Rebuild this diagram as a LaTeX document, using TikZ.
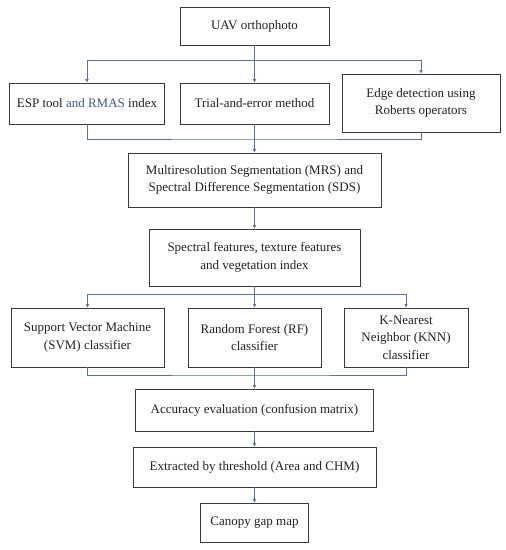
\documentclass[tikz,border=0pt]{standalone}
\usepackage{fontspec}
\setmainfont{Liberation Serif}
\usetikzlibrary{arrows.meta}
\definecolor{conn}{HTML}{5B7291}
\definecolor{boxline}{HTML}{3A3A3A}
\definecolor{txt}{HTML}{222222}
\definecolor{blu}{HTML}{3D5A85}
\tikzset{
  box/.style={draw=boxline, line width=0.8pt, fill=white, align=center, text=txt,
    inner sep=2pt, font=\fontsize{13}{17.5}\selectfont},
  conline/.style={draw=conn, line width=0.7pt},
  arr/.style={conline, -{Latex[length=3.5pt,width=3.5pt]}}
}
\begin{document}
\begin{tikzpicture}[x=1pt,y=-1pt]
\useasboundingbox (0,0) rectangle (506,550);
\fill[white] (0,0) rectangle (506,550);

\node[box, minimum width=149pt, minimum height=38pt] (uav) at (254.5,26) {UAV orthophoto};
\node[box, minimum width=155pt, minimum height=41pt] (esp) at (87,103.5) {ESP tool \textcolor{blu}{and RMAS} index};
\node[box, minimum width=149pt, minimum height=41pt] (trial) at (254.5,103.5) {Trial-and-error method};
\node[box, minimum width=158pt, minimum height=58pt] (edge) at (421,103) {Edge detection using\\Roberts operators};
\node[box, minimum width=253pt, minimum height=54pt] (mrs) at (254.5,180) {Multiresolution Segmentation (MRS) and\\Spectral Difference Segmentation (SDS)};
\node[box, minimum width=211pt, minimum height=57pt] (spec) at (254.5,257.5) {Spectral features, texture features\\and vegetation index};
\node[box, minimum width=153pt, minimum height=59pt] (svm) at (87.5,337.5) {Support Vector Machine\\(SVM) classifier};
\node[box, minimum width=133pt, minimum height=59pt] (rf) at (254.5,337.5) {Random Forest (RF)\\classifier};
\node[box, minimum width=124pt, minimum height=59pt] (knn) at (406,337.5) {K-Nearest\\Neighbor (KNN)\\classifier};
\node[box, minimum width=238pt, minimum height=42pt] (acc) at (254.5,410) {Accuracy evaluation (confusion matrix)};
\node[box, minimum width=243pt, minimum height=40pt] (ext) at (254.5,467) {Extracted by threshold (Area and CHM)};
\node[box, minimum width=108pt, minimum height=39pt] (gap) at (254.5,522.5) {Canopy gap map};

\coordinate (j1) at (254.5,60);
\coordinate (j2) at (254.5,139);
\coordinate (j3) at (254.5,294);
\coordinate (j4) at (254.5,375);

\draw[conline] (uav) -- (j1);
\draw[arr] (j1) -| (esp);
\draw[arr] (j1) -- (trial);
\draw[arr] (j1) -| (edge);

\draw[conline] (esp) |- (j2) -| (edge);
\draw[conline] (trial) -- (j2);
\draw[arr] (j2) -- (mrs);

\draw[arr] (mrs) -- (spec);

\draw[conline] (spec) -- (j3);
\draw[arr] (j3) -| (svm);
\draw[arr] (j3) -- (rf);
\draw[arr] (j3) -| (knn);

\draw[conline] (svm) |- (j4) -| (knn);
\draw[conline] (rf) -- (j4);
\draw[arr] (j4) -- (acc);

\draw[arr] (acc) -- (ext);
\draw[arr] (ext) -- (gap);
\end{tikzpicture}
\end{document}
